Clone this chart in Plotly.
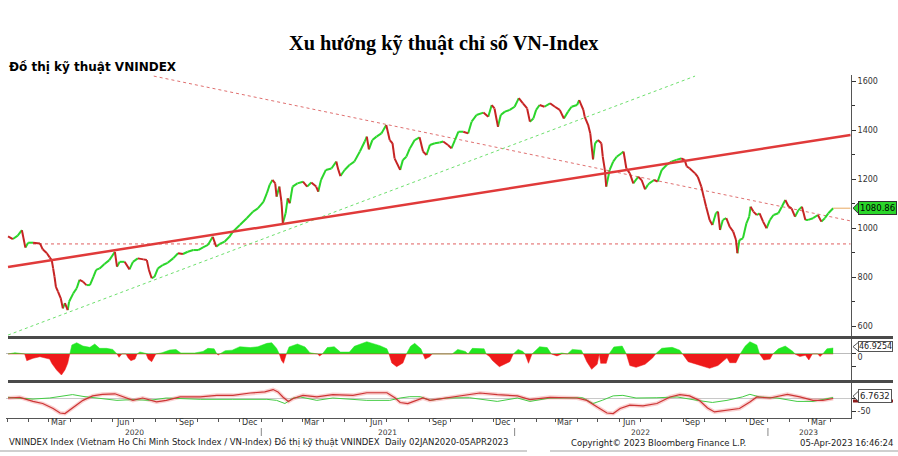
import plotly.graph_objects as go

# ---------------- DATA ----------------
price_dates = [
    "2020-01-02", "2020-01-09", "2020-01-16", "2020-01-22", "2020-01-27", "2020-01-31",
    "2020-02-07", "2020-02-17", "2020-02-21", "2020-02-27", "2020-03-02", "2020-03-05",
    "2020-03-07", "2020-03-09", "2020-03-11", "2020-03-14", "2020-03-18", "2020-03-21",
    "2020-03-24", "2020-03-28", "2020-03-30", "2020-04-05", "2020-04-10", "2020-04-14",
    "2020-04-19", "2020-04-24", "2020-04-29", "2020-05-04", "2020-05-08", "2020-05-13",
    "2020-05-20", "2020-05-27", "2020-06-04", "2020-06-07", "2020-06-11", "2020-06-18",
    "2020-06-25", "2020-06-30", "2020-07-07", "2020-07-15", "2020-07-20", "2020-07-23",
    "2020-07-27", "2020-07-31", "2020-08-05", "2020-08-12", "2020-08-19", "2020-08-27",
    "2020-09-03", "2020-09-10", "2020-09-17", "2020-09-25", "2020-10-02", "2020-10-09",
    "2020-10-16", "2020-10-23", "2020-10-28", "2020-11-02", "2020-11-09", "2020-11-16",
    "2020-11-21", "2020-12-01", "2020-12-11", "2020-12-20", "2020-12-27", "2021-01-04",
    "2021-01-09", "2021-01-13", "2021-01-17", "2021-01-21", "2021-01-23", "2021-01-27",
    "2021-01-30", "2021-02-01", "2021-02-05", "2021-02-08", "2021-02-11", "2021-02-15",
    "2021-02-22", "2021-03-02", "2021-03-08", "2021-03-14", "2021-03-21", "2021-03-24",
    "2021-03-28", "2021-04-04", "2021-04-12", "2021-04-19", "2021-04-22", "2021-04-25",
    "2021-05-01", "2021-05-08", "2021-05-15", "2021-05-23", "2021-05-30", "2021-06-02",
    "2021-06-05", "2021-06-10", "2021-06-16", "2021-06-23", "2021-06-30", "2021-07-05",
    "2021-07-09", "2021-07-12", "2021-07-20", "2021-07-24", "2021-07-29", "2021-08-03",
    "2021-08-10", "2021-08-17", "2021-08-22", "2021-08-27", "2021-09-01", "2021-09-08",
    "2021-09-15", "2021-09-20", "2021-09-27", "2021-10-02", "2021-10-07", "2021-10-12",
    "2021-10-19", "2021-10-26", "2021-10-31", "2021-11-07", "2021-11-17", "2021-11-24",
    "2021-11-29", "2021-12-03", "2021-12-08", "2021-12-12", "2021-12-18", "2021-12-25",
    "2022-01-01", "2022-01-07", "2022-01-13", "2022-01-19", "2022-01-23", "2022-01-28",
    "2022-02-01", "2022-02-06", "2022-02-13", "2022-02-21", "2022-02-28", "2022-03-07",
    "2022-03-13", "2022-03-19", "2022-03-24", "2022-04-01", "2022-04-04", "2022-04-10",
    "2022-04-12", "2022-04-17", "2022-04-20", "2022-04-24", "2022-04-27", "2022-05-01",
    "2022-05-06", "2022-05-08", "2022-05-11", "2022-05-13", "2022-05-18", "2022-05-23",
    "2022-05-28", "2022-06-04", "2022-06-07", "2022-06-11", "2022-06-16", "2022-06-21",
    "2022-06-28", "2022-07-03", "2022-07-08", "2022-07-12", "2022-07-14", "2022-07-21",
    "2022-07-26", "2022-08-01", "2022-08-08", "2022-08-15", "2022-08-22", "2022-08-29",
    "2022-09-03", "2022-09-06", "2022-09-10", "2022-09-18", "2022-09-22", "2022-09-27",
    "2022-10-01", "2022-10-04", "2022-10-09", "2022-10-13", "2022-10-18", "2022-10-21",
    "2022-10-24", "2022-10-28", "2022-11-02", "2022-11-07", "2022-11-12", "2022-11-16",
    "2022-11-18", "2022-11-21", "2022-11-26", "2022-12-01", "2022-12-05", "2022-12-07",
    "2022-12-11", "2022-12-16", "2022-12-20", "2022-12-25", "2022-12-30", "2023-01-04",
    "2023-01-09", "2023-01-16", "2023-01-21", "2023-01-26", "2023-01-31", "2023-02-04",
    "2023-02-09", "2023-02-14", "2023-02-19", "2023-02-24", "2023-02-28", "2023-03-07",
    "2023-03-14", "2023-03-19", "2023-03-24", "2023-03-29", "2023-04-05",
]
price_close = [
    966, 955, 969, 991, 920, 940,
    940, 937, 913, 897, 880, 869,
    835, 801, 760, 740, 713, 672,
    693, 665, 699, 733, 754, 788,
    781, 767, 767, 801, 829, 835,
    853, 869, 903, 842, 862, 862,
    831, 862, 876, 872, 869, 829,
    795, 801, 835, 849, 858, 876,
    897, 894, 903, 910, 910, 921,
    931, 964, 924, 935, 944, 964,
    985, 1012, 1040, 1067, 1080, 1107,
    1142, 1176, 1196, 1182, 1128, 1169,
    1107, 1019, 1060, 1121, 1101, 1169,
    1182, 1189, 1169, 1186, 1169, 1148,
    1196, 1237, 1243, 1271, 1237, 1212,
    1237, 1257, 1271, 1312, 1353, 1373,
    1321, 1359, 1373, 1386, 1420, 1359,
    1346, 1284, 1237, 1278, 1291, 1325,
    1359, 1370, 1312, 1298, 1339, 1346,
    1349, 1353, 1339, 1325, 1359, 1393,
    1393, 1386, 1434, 1461, 1471, 1454,
    1502, 1488, 1413, 1461, 1475, 1482,
    1495, 1530, 1509, 1488, 1434, 1447,
    1482, 1502, 1495, 1509, 1495, 1482,
    1447, 1475, 1495, 1502, 1522, 1482,
    1454, 1420, 1386, 1280, 1346, 1359,
    1346, 1291, 1237, 1169, 1237, 1271,
    1291, 1305, 1312, 1243, 1223, 1182,
    1209, 1196, 1158, 1176, 1182, 1196,
    1189, 1237, 1257, 1271, 1278, 1284,
    1278, 1251, 1244, 1223, 1209, 1169,
    1121, 1087, 1033, 1012, 1060, 1067,
    992, 1033, 1040, 1005, 985, 951,
    897, 951, 958, 1019, 1046, 1087,
    1067, 1053, 1060, 1026, 999, 1033,
    1053, 1060, 1087, 1114, 1087, 1080,
    1046, 1073, 1087, 1033, 1033, 1040,
    1053, 1026, 1040, 1060, 1080.86,
]
last_price = 1080.86

mom_dates = [
    "2020-01-02", "2020-01-12", "2020-01-26", "2020-01-29", "2020-02-07", "2020-02-17",
    "2020-02-27", "2020-03-02", "2020-03-05", "2020-03-12", "2020-03-19", "2020-03-24",
    "2020-03-28", "2020-03-31", "2020-04-03", "2020-04-10", "2020-04-19", "2020-04-29",
    "2020-05-06", "2020-05-13", "2020-05-23", "2020-06-01", "2020-06-07", "2020-06-10",
    "2020-06-14", "2020-06-20", "2020-06-23", "2020-06-27", "2020-07-03", "2020-07-06",
    "2020-07-10", "2020-07-19", "2020-07-22", "2020-07-27", "2020-08-02", "2020-08-11",
    "2020-08-22", "2020-08-31", "2020-09-07", "2020-09-27", "2020-10-09", "2020-10-16",
    "2020-10-25", "2020-10-29", "2020-10-31", "2020-11-02", "2020-11-10", "2020-11-20",
    "2020-12-01", "2020-12-16", "2020-12-27", "2021-01-09", "2021-01-16", "2021-01-23",
    "2021-01-27", "2021-01-30", "2021-02-02", "2021-02-06", "2021-02-10", "2021-02-22",
    "2021-03-05", "2021-03-12", "2021-03-23", "2021-03-26", "2021-03-30", "2021-04-06",
    "2021-04-16", "2021-04-25", "2021-05-08", "2021-05-15", "2021-06-02", "2021-06-21",
    "2021-07-01", "2021-07-04", "2021-07-08", "2021-07-15", "2021-07-24", "2021-07-29",
    "2021-08-04", "2021-08-10", "2021-08-19", "2021-08-22", "2021-08-25", "2021-09-01",
    "2021-09-04", "2021-09-16", "2021-10-03", "2021-10-11", "2021-10-22", "2021-10-26",
    "2021-11-01", "2021-11-18", "2021-11-21", "2021-11-26", "2021-11-30", "2021-12-10",
    "2021-12-25", "2021-12-30", "2022-01-06", "2022-01-13", "2022-01-16", "2022-01-21",
    "2022-01-26", "2022-02-06", "2022-02-17", "2022-02-23", "2022-03-03", "2022-03-10",
    "2022-03-18", "2022-03-25", "2022-04-07", "2022-04-10", "2022-04-15", "2022-04-22",
    "2022-04-30", "2022-05-03", "2022-05-05", "2022-05-13", "2022-05-17", "2022-05-24",
    "2022-06-05", "2022-06-11", "2022-06-16", "2022-06-25", "2022-07-08", "2022-07-19",
    "2022-07-23", "2022-08-01", "2022-08-16", "2022-08-27", "2022-08-31", "2022-09-08",
    "2022-09-25", "2022-10-09", "2022-10-21", "2022-11-03", "2022-11-07", "2022-11-16",
    "2022-11-22", "2022-11-29", "2022-12-06", "2022-12-16", "2022-12-20", "2022-12-26",
    "2023-01-04", "2023-01-08", "2023-01-16", "2023-01-26", "2023-02-06", "2023-02-09",
    "2023-02-16", "2023-02-24", "2023-03-01", "2023-03-06", "2023-03-14", "2023-03-17",
    "2023-03-21", "2023-03-27", "2023-04-05",
]
mom_values = [
    0, 10, 0, -52, -34, -21,
    -34, -40, -73, -125, -164, -125,
    -73, 0, 70, 88, 62, 52,
    78, 44, 44, 36, 0, -26,
    0, 0, -30, -52, -40, 0,
    16, 0, -40, -60, 0, 10,
    31, 35, 8, 8, 20, 44,
    40, 0, -8, 0, 26, 30,
    57, 50, 57, 83, 88, 44,
    0, -50, -73, 0, 55, 78,
    55, 10, 0, -15, 0, 50,
    57, 15, 15, 60, 96, 65,
    40, 0, -70, -99, -70, 0,
    60, 83, 40, 0, -40, -20,
    0, 5, 0, 36, 20, 0,
    44, 40, 0, -21, -50, -99,
    -60, 0, 36, 20, 0, -73,
    0, 57, 50, 0, -15, 8,
    0, 36, 30, 0, -60, -120,
    -80, 0, -73, -73, 0, 55,
    62, 0, -90, -104, -80, -30,
    0, 45, 52, 30, 0, -60,
    -90, -112, -90, -30, -68, -68,
    0, 60, 96, 70, 0, -47,
    -40, 0, 40, 62, 20, 0,
    -20, -10, -47, 0, 5, -20,
    0, 40, 46.9254,
]
mom_last = 46.9254

osc_red_dates = [
    "2020-01-02", "2020-01-19", "2020-02-07", "2020-02-21", "2020-03-07", "2020-03-17",
    "2020-03-24", "2020-03-31", "2020-04-10", "2020-04-19", "2020-05-03", "2020-05-17",
    "2020-06-04", "2020-06-16", "2020-06-30", "2020-07-14", "2020-08-03", "2020-08-17",
    "2020-09-06", "2020-10-05", "2020-10-29", "2020-11-21", "2020-12-16", "2021-01-06",
    "2021-01-18", "2021-01-25", "2021-02-01", "2021-02-09", "2021-02-16", "2021-03-02",
    "2021-03-22", "2021-04-14", "2021-05-13", "2021-06-02", "2021-07-01", "2021-07-13",
    "2021-07-20", "2021-07-31", "2021-08-13", "2021-08-22", "2021-09-01", "2021-09-20",
    "2021-09-30", "2021-10-19", "2021-11-12", "2021-12-07", "2022-01-05", "2022-01-23",
    "2022-02-21", "2022-04-01", "2022-04-15", "2022-04-30", "2022-05-14", "2022-05-23",
    "2022-06-02", "2022-06-16", "2022-07-05", "2022-07-25", "2022-08-13", "2022-08-27",
    "2022-09-10", "2022-09-24", "2022-10-06", "2022-10-16", "2022-11-03", "2022-11-21",
    "2022-12-06", "2022-12-16", "2023-01-04", "2023-01-29", "2023-02-16", "2023-03-07",
    "2023-03-21", "2023-04-05",
]
osc_red_values = [
    0, 2.5, -13, -21, -40, -57,
    -59, -46, -25, -9, 8, 14,
    16, 4, -9, 0, -15, -9,
    4, 4, 10, 10, 19, 23,
    32, 23, 4, -13, -2, 10,
    4, 13, 10, 20, 20, 0,
    -17, -21, -9, 0, -9, -2,
    2.5, 10, 19, 13, 8, -6,
    2.5, 0, -9, -34, -57, -59,
    -40, -27, -30, -21, 4, 13,
    8, -9, -38, -53, -46, -40,
    -15, 4, 0, 14, 4, -9,
    -9, -2,
]

osc_green_dates = [
    "2020-01-02", "2020-02-07", "2020-03-02", "2020-03-21", "2020-04-04", "2020-04-19",
    "2020-05-13", "2020-06-07", "2020-06-30", "2020-07-24", "2020-08-17", "2020-10-05",
    "2020-11-21", "2021-01-09", "2021-01-23", "2021-02-04", "2021-02-16", "2021-02-26",
    "2021-03-22", "2021-04-14", "2021-06-02", "2021-07-05", "2021-07-20", "2021-08-03",
    "2021-08-18", "2021-09-01", "2021-09-25", "2021-10-28", "2021-12-07", "2022-01-05",
    "2022-01-23", "2022-02-21", "2022-04-09", "2022-04-24", "2022-05-08", "2022-05-23",
    "2022-06-06", "2022-06-25", "2022-07-25", "2022-08-23", "2022-09-21", "2022-10-13",
    "2022-11-03", "2022-11-25", "2022-12-06", "2022-12-20", "2023-01-14", "2023-02-12",
    "2023-03-07", "2023-04-05",
]
osc_green_values = [
    2.5, -4, 0, 6, 13, 6,
    0, -9, -6, -9, 0, -5,
    -5, -5, -9, -21, 0, 4,
    -9, 0, -9, -9, 0, 5,
    5, -9, 0, 1, -13, 0,
    -13, 0, 1, -21, -8, 8,
    10, 0, 1, 4, -9, -17,
    -9, 4, 14, 4, 0, -13,
    -13, 2,
]
osc_last = 6.7632

# trend lines (start/end points)
trend_main_dates = ["2020-01-02", "2023-04-30"]
trend_main_values = [841, 1380]
support_dates = ["2020-02-07", "2023-04-30"]
support_values = [935, 935]
resist_dates = ["2020-07-30", "2023-04-30"]
resist_values = [1620, 1029]
channel_dates = ["2020-01-02", "2022-09-18"]
channel_values = [563, 1620]

month_label_dates = ["2020-03-15", "2020-06-15", "2020-09-15", "2020-12-15",
                     "2021-03-15", "2021-06-15", "2021-09-15", "2021-12-15",
                     "2022-03-15", "2022-06-15", "2022-09-15", "2022-12-15",
                     "2023-03-15"]
month_label_text = ["Mar", "Jun", "Sep", "Dec"] * 3 + ["Mar"]
year_label_dates = ["2020-07-02", "2021-07-02", "2022-07-02", "2023-03-01"]
year_label_text = ["2020", "2021", "2022", "2023"]
year_sep_dates = ["2021-01-01", "2022-01-01", "2023-01-01"]

price_ticks = [600, 800, 1000, 1200, 1400, 1600]

# ---------------- LAYOUT HELPERS ----------------
W, H = 898, 456
ML, MR = 6, 47
PW = W - ML - MR


def px_x(px):
    return (px - ML) / PW


def px_y(py):
    return 1 - py / H


X_RANGE = ["2019-12-30 02:00", "2023-04-30 17:00"]
FONT = "DejaVu Sans"
GREEN = "#2bd52b"
RED = "#c62424"

fig = go.Figure()

# price: coloured segments (green when the close rises, red when it falls)
up_x, up_y, dn_x, dn_y = [], [], [], []
for i in range(1, len(price_close)):
    a, b = price_close[i - 1], price_close[i]
    if b >= a:
        up_x += [price_dates[i - 1], price_dates[i], None]
        up_y += [a, b, None]
    else:
        dn_x += [price_dates[i - 1], price_dates[i], None]
        dn_y += [a, b, None]

fig.add_trace(go.Scatter(x=support_dates, y=support_values, mode="lines",
                         line=dict(color="#e06060", width=1, dash="dot"), yaxis="y"))
fig.add_trace(go.Scatter(x=resist_dates, y=resist_values, mode="lines",
                         line=dict(color="#e07070", width=1, dash="dot"), yaxis="y"))
fig.add_trace(go.Scatter(x=channel_dates, y=channel_values, mode="lines",
                         line=dict(color="#6ee06e", width=1, dash="dot"), yaxis="y"))
fig.add_trace(go.Scatter(x=up_x, y=up_y, mode="lines", line=dict(color=GREEN, width=2),
                         yaxis="y", connectgaps=False))
fig.add_trace(go.Scatter(x=dn_x, y=dn_y, mode="lines", line=dict(color=RED, width=2),
                         yaxis="y", connectgaps=False))
fig.add_trace(go.Scatter(x=trend_main_dates, y=trend_main_values, mode="lines",
                         line=dict(color="#e03a3a", width=2.5), yaxis="y"))
fig.add_trace(go.Scatter(x=[price_dates[-1], trend_main_dates[-1]], y=[last_price, last_price],
                         mode="lines", line=dict(color="#e8a860", width=1), yaxis="y"))

# momentum histogram
mom_pos = [max(v, 0) for v in mom_values]
mom_neg = [min(v, 0) for v in mom_values]
fig.add_trace(go.Scatter(x=mom_dates, y=mom_pos, mode="lines", fill="tozeroy",
                         line=dict(color="#22e622", width=0.5), fillcolor="#22e622", yaxis="y2"))
fig.add_trace(go.Scatter(x=mom_dates, y=mom_neg, mode="lines", fill="tozeroy",
                         line=dict(color="#ee1a1a", width=0.5), fillcolor="#ee1a1a", yaxis="y2"))

# oscillator lines
fig.add_trace(go.Scatter(x=osc_red_dates, y=osc_red_values, mode="lines",
                         line=dict(color="rgba(240,120,120,0.35)", width=4), yaxis="y3"))
fig.add_trace(go.Scatter(x=osc_green_dates, y=osc_green_values, mode="lines",
                         line=dict(color="#44cc44", width=1), yaxis="y3"))
fig.add_trace(go.Scatter(x=osc_red_dates, y=osc_red_values, mode="lines",
                         line=dict(color="#cc3535", width=1.2), yaxis="y3"))

shapes = []
for py in (337.5, 381.5):
    shapes.append(dict(type="line", xref="paper", yref="paper", x0=px_x(8), x1=px_x(893),
                       y0=px_y(py), y1=px_y(py), line=dict(color="#4a4a4a", width=3)))
shapes.append(dict(type="line", xref="paper", yref="paper", x0=px_x(0), x1=px_x(527),
                   y0=px_y(451), y1=px_y(451), line=dict(color="#cfcfcf", width=2)))
shapes.append(dict(type="line", xref="paper", yref="paper", x0=px_x(550), x1=px_x(898),
                   y0=px_y(451), y1=px_y(451), line=dict(color="#cfcfcf", width=2)))
for d in year_sep_dates:
    shapes.append(dict(type="line", xref="x", yref="paper", x0=d, x1=d,
                       y0=px_y(436), y1=px_y(428), line=dict(color="#888", width=1)))


def tag(yref, val, half, fill, border):
    x0, x1 = px_x(853), px_x(859)
    return dict(type="path", xref="paper", yref=yref,
                path=f"M {x0} {val} L {x1} {val + half} L {x1} {val - half} Z",
                fillcolor=fill, line=dict(color=border, width=1))


shapes.append(dict(type="rect", xref="paper", yref="y3", x0=px_x(853), x1=px_x(893),
                   y0=osc_last - 24, y1=osc_last - 12, fillcolor="#8b1a1a",
                   line=dict(width=0)))
shapes.append(tag("y", last_price, 24, "#2ad62a", "#333"))
shapes.append(tag("y2", mom_last + 10, 38, "white", "#555"))
shapes.append(tag("y3", osc_last, 21, "white", "#555"))

annotations = [
    dict(text="<b>Xu hướng kỹ thuật chỉ số VN-Index</b>", xref="paper", yref="paper",
         x=px_x(444), y=px_y(43), showarrow=False, xanchor="center", yanchor="middle",
         font=dict(family="Liberation Serif", size=20.3, color="black")),
    dict(text="<b>Đồ thị kỹ thuật VNINDEX</b>", xref="paper", yref="paper",
         x=px_x(7), y=px_y(67), showarrow=False, xanchor="left", yanchor="middle",
         font=dict(family=FONT, size=12, color="black")),
    dict(text="1080.86", xref="paper", yref="y", x=px_x(858), y=last_price, showarrow=False,
         xanchor="left", yanchor="middle", bgcolor="#2ad62a", bordercolor="#333",
         borderwidth=1, borderpad=1, font=dict(family=FONT, size=8.5, color="black")),
    dict(text="46.9254", xref="paper", yref="y2", x=px_x(858), y=mom_last + 10,
         showarrow=False, xanchor="left", yanchor="middle", bgcolor="white",
         bordercolor="#555", borderwidth=1, borderpad=0,
         font=dict(family=FONT, size=8, color="#222")),
    dict(text="6.7632", xref="paper", yref="y3", x=px_x(858), y=osc_last, showarrow=False,
         xanchor="left", yanchor="middle", bgcolor="white", bordercolor="#555",
         borderwidth=1, borderpad=1, font=dict(family=FONT, size=8.5, color="#222")),
    dict(text="VNINDEX Index (Vietnam Ho Chi Minh Stock Index / VN-Index) Đồ thị kỹ thuật VNINDEX  Daily 02JAN2020-05APR2023",
         xref="paper", yref="paper", x=px_x(8), y=px_y(442.5), showarrow=False,
         xanchor="left", yanchor="middle", borderpad=0,
         font=dict(family=FONT, size=8.5, color="#222")),
    dict(text="Copyright© 2023 Bloomberg Finance L.P.", xref="paper", yref="paper",
         x=px_x(570), y=px_y(442.5), showarrow=False, xanchor="left", yanchor="middle",
         borderpad=0, font=dict(family=FONT, size=8.5, color="#222")),
    dict(text="05-Apr-2023 16:46:24", xref="paper", yref="paper",
         x=px_x(894), y=px_y(442.5), showarrow=False, xanchor="right", yanchor="middle",
         borderpad=0, font=dict(family=FONT, size=8.5, color="#222")),
]
for d, t in zip(month_label_dates, month_label_text):
    annotations.append(dict(text=t, xref="x", yref="paper", x=d, y=px_y(422),
                            showarrow=False, xanchor="center", yanchor="middle",
                            borderpad=0, font=dict(family=FONT, size=8, color="#333")))
for d, t in zip(year_label_dates, year_label_text):
    annotations.append(dict(text=t, xref="x", yref="paper", x=d, y=px_y(432),
                            showarrow=False, xanchor="center", yanchor="middle",
                            borderpad=0, font=dict(family=FONT, size=7.5, color="#333")))

axis_common = dict(side="right", showgrid=False, showline=True, linecolor="#555",
                   linewidth=1, ticks="outside", tickcolor="#333", ticklen=4,
                   tickfont=dict(family=FONT, size=8, color="#333"),
                   fixedrange=True)

fig.update_layout(
    width=W, height=H, autosize=False,
    margin=dict(l=ML, r=MR, t=0, b=0, pad=0),
    paper_bgcolor="white", plot_bgcolor="white",
    showlegend=False,
    xaxis=dict(type="date", range=X_RANGE, anchor="y3", showgrid=False,
               showline=True, linecolor="#555", linewidth=1, ticks="outside",
               ticklen=3, tickcolor="#555", tick0="2020-01-01", dtick="M1",
               showticklabels=False, zeroline=False),
    yaxis=dict(domain=[px_y(336), px_y(75)], range=[559.2, 1624.5],
               tickvals=price_ticks, ticktext=[str(v) for v in price_ticks],
               minor=dict(dtick=100, tick0=0, ticks="outside", ticklen=3, tickcolor="#333"),
               zeroline=False, **axis_common),
    yaxis2=dict(domain=[px_y(380), px_y(339)], range=[-203, 117],
                tickvals=[-100, 0], ticktext=["", "0"], ticklabelshift=3,
                zeroline=True, zerolinecolor="#bbbbbb", zerolinewidth=1, **axis_common),
    yaxis3=dict(domain=[px_y(418), px_y(383)], range=[-76, 57],
                tickvals=[-50, 0], ticktext=["-50", ""],
                zeroline=True, zerolinecolor="#c8c8c8", zerolinewidth=1, **axis_common),
    shapes=shapes,
    annotations=annotations,
)

fig.write_html("out.html")
